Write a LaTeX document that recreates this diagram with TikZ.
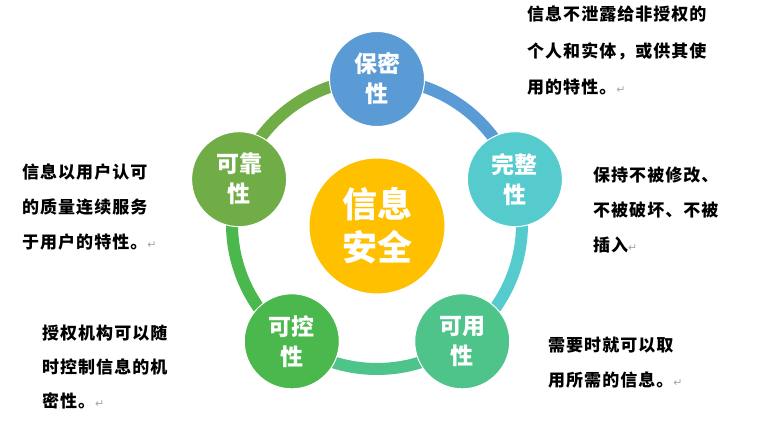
\documentclass[tikz,border=0pt]{standalone}
\usepackage{fontspec}
\usetikzlibrary{calc}
\setmainfont{Liberation Serif}
\newfontfamily\desc[LetterSpace=6]{Noto Sans CJK SC}
\newfontfamily\lab{Noto Sans CJK SC}
\newfontfamily\djv{DejaVu Sans}
\definecolor{cBlue}{HTML}{5B9BD5}
\definecolor{cCyan}{HTML}{55CBCD}
\definecolor{cMint}{HTML}{4EC48B}
\definecolor{cGreen}{HTML}{4AB84C}
\definecolor{cOlive}{HTML}{70AD47}
\definecolor{cGold}{HTML}{FFC000}
\newcommand\retmark{{\mdseries\color{black!35}\djv\fontsize{11}{11}\selectfont ↵}}
\begin{document}
\begin{tikzpicture}[x=1pt,y=1pt,
  sat/.style={circle, minimum size=95, inner sep=0, draw=white, line width=1,
    text=white, font=\lab\bfseries\fontsize{23}{30}\selectfont, align=center},
  hub/.style={circle, minimum size=136, inner sep=0, draw=white, line width=1,
    fill=cGold, text=white, font=\lab\bfseries\fontsize{35}{43}\selectfont, align=center},
  ringseg/.style={line width=12},
  blurb/.style={anchor=base west, inner sep=0, align=left}]
\useasboundingbox (0,0) rectangle (767,445);
\coordinate (O) at (377,221);
% ring segments
\draw[ringseg, cBlue]  ($(O)+(90:145)$) arc[start angle=90, end angle=18, radius=145];
\draw[ringseg, cCyan]  ($(O)+(18:145)$) arc[start angle=18, end angle=-54, radius=145];
\draw[ringseg, cMint]  ($(O)+(-54:145)$) arc[start angle=-54, end angle=-126, radius=145];
\draw[ringseg, cGreen] ($(O)+(-126:145)$) arc[start angle=-126, end angle=-198, radius=145];
\draw[ringseg, cOlive] ($(O)+(162:145)$) arc[start angle=162, end angle=90, radius=145];
% circles
\node[hub] (hub) at ($(O)+(0,-2)$) {信息\\安全};
\node[sat, fill=cBlue]  (bm) at ($(O)+(90:145)$)   {保密\\性};
\node[sat, fill=cCyan]  (wz) at ($(O)+(18:145)$)   {完整\\性};
\node[sat, fill=cMint]  (ky) at ($(O)+(-54:145)$)  {可用\\性};
\node[sat, fill=cGreen] (kk) at ($(O)+(-126:145)$) {可控\\性};
\node[sat, fill=cOlive] (kq) at ($(O)+(162:145)$)  {可靠\\性};
% descriptions (anchor = baseline of last line)
\node[blurb, font=\desc\bfseries\fontsize{17}{36.5}\selectfont] (t1) at (527,351)
  {信息不泄露给非授权的\\个人和实体，或供其使\\用的特性。\retmark};
\node[blurb, font=\desc\bfseries\fontsize{17}{35}\selectfont] (t2) at (593,194)
  {保持不被修改、\\不被破坏、不被\\插入\retmark};
\node[blurb, font=\desc\bfseries\fontsize{17}{35}\selectfont] (t3) at (548,59)
  {需要时就可以取\\用所需的信息。\retmark};
\node[blurb, font=\desc\bfseries\fontsize{17}{34}\selectfont] (t4) at (42,38)
  {授权机构可以随\\时控制信息的机\\密性。\retmark};
\node[blurb, font=\desc\bfseries\fontsize{17}{35}\selectfont] (t5) at (22,197)
  {信息以用户认可\\的质量连续服务\\于用户的特性。\retmark};
\end{tikzpicture}
\end{document}
